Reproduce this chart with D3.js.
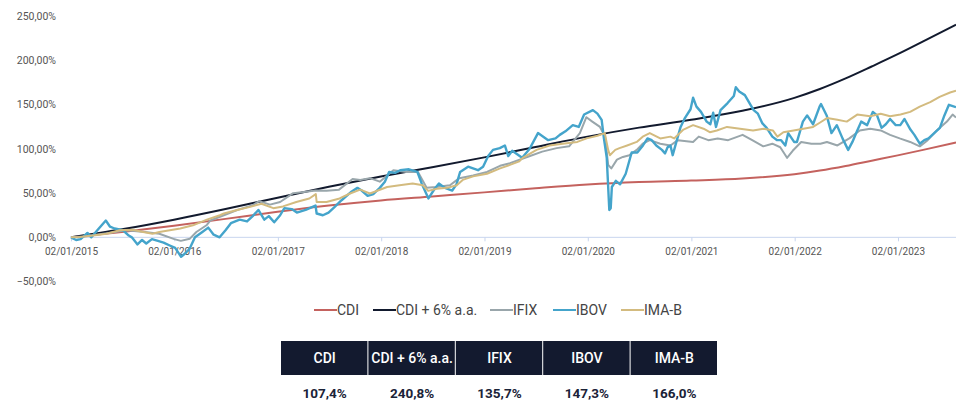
<!DOCTYPE html>
<html>
<head>
<meta charset="utf-8">
<script src="https://cdn.jsdelivr.net/npm/d3@7"></script>
<style>
  html, body { margin: 0; padding: 0; background: #fff; }
  svg { display: block; font-family: Roboto, "Open Sans", sans-serif; }
</style>
</head>
<body>
<svg id="chart" width="956" height="402"></svg>
<script>
// series names + colours (legend order)
const seriesNames = ['CDI', 'CDI + 6% a.a.', 'IFIX', 'IBOV', 'IMA-B']
const seriesColors = ['#c4625e', '#121a2e', '#99a6ab', '#44a4cb', '#d3bb7f']
const finalValues = ['107,4%', '240,8%', '135,7%', '147,3%', '166,0%']

const yTicks = [-50, 0, 50, 100, 150, 200, 250]
const xTicks = ['2015-01-02', '2016-01-02', '2017-01-02', '2018-01-02', '2019-01-02',
  '2020-01-02', '2021-01-02', '2022-01-02', '2023-01-02']

// cumulative return in %
const cdi = [["2015-01-02",0],["2015-07-01",6.0],["2016-01-01",13.2],["2016-07-01",20.9],
  ["2017-01-01",29.0],["2017-07-01",36.0],["2018-01-01",41.8],["2018-07-01",46.3],
  ["2019-01-01",50.9],["2019-07-01",55.6],["2020-01-01",59.9],["2020-07-01",62.7],
  ["2021-01-01",64.3],["2021-07-01",66.5],["2022-01-01",71.5],["2022-04-01",75.6],
  ["2022-07-01",80.8],["2022-10-01",86.8],["2023-01-01",92.8],["2023-04-01",99.0],
  ["2023-07-26",107.4]]

const cdi6 = [["2015-01-02",0],["2015-07-01",9.1],["2016-01-01",20.0],["2016-07-01",32.0],
  ["2017-01-01",44.9],["2017-07-01",57.3],["2018-01-01",68.9],["2018-07-01",79.4],
  ["2019-01-01",90.5],["2019-07-01",102.2],["2020-01-01",114.0],["2020-07-01",124.2],
  ["2021-01-01",133.1],["2021-07-01",143.2],["2022-01-01",157.9],["2022-04-01",167.9],
  ["2022-07-01",179.9],["2022-10-01",193.4],["2023-01-01",207.3],["2023-04-01",221.8],
  ["2023-07-26",240.8]]

const ifix = [["2015-01-02",0],["2015-02-15",1],["2015-04-01",3],["2015-05-15",5],["2015-07-15",8],
  ["2015-09-20",6],["2015-11-10",4],["2016-01-02",-2],["2016-01-25",-4],["2016-02-26",-1.5],
  ["2016-03-20",6],["2016-04-26",14],["2016-05-08",19],["2016-06-25",25],["2016-08-11",31],
  ["2016-10-03",36],["2016-10-28",41],["2016-12-05",37],["2017-01-10",40],["2017-02-25",50],
  ["2017-03-28",51],["2017-05-15",53],["2017-06-23",52.6],["2017-08-06",54],["2017-09-23",66],
  ["2017-10-20",65],["2017-11-23",67],["2017-12-28",63],["2018-02-14",76],["2018-04-02",74],
  ["2018-05-12",74],["2018-06-12",56],["2018-07-15",57],["2018-09-02",59],["2018-10-05",67],
  ["2018-11-23",70],["2019-01-11",74],["2019-02-26",81],["2019-04-02",84],["2019-06-02",91],
  ["2019-07-25",97],["2019-09-14",101],["2019-10-28",103],["2019-12-05",118],["2019-12-28",136],
  ["2020-01-18",131],["2020-02-14",125],["2020-03-03",114],["2020-03-14",82],["2020-03-25",78],
  ["2020-04-14",88],["2020-05-05",91],["2020-05-28",93],["2020-06-23",99],["2020-07-14",106],
  ["2020-08-08",110],["2020-09-14",106],["2020-10-20",104],["2020-11-15",110],["2021-01-08",108],
  ["2021-01-28",114],["2021-03-03",110],["2021-04-05",112],["2021-05-12",110],["2021-07-02",116],
  ["2021-08-05",110],["2021-09-13",103],["2021-10-15",106],["2021-11-12",102],["2021-12-06",90],
  ["2021-12-26",98],["2022-01-25",108],["2022-03-02",106],["2022-04-03",106],["2022-04-26",108],
  ["2022-06-02",104],["2022-07-14",112],["2022-08-20",121],["2022-09-26",123],["2022-11-02",121],
  ["2022-12-05",116],["2023-01-08",112],["2023-02-14",108],["2023-03-20",103],["2023-04-17",110],
  ["2023-05-16",120],["2023-06-24",131],["2023-07-14",139],["2023-07-26",135.7]]

const ibov = [["2015-01-02",0],["2015-01-20",-3],["2015-02-05",-2],["2015-03-01",5],["2015-03-15",0],
  ["2015-04-05",8],["2015-05-05",19],["2015-05-20",12],["2015-06-05",10],["2015-07-05",8],
  ["2015-07-25",2],["2015-08-05",0],["2015-08-25",-8],["2015-09-10",-3],["2015-09-25",-7],
  ["2015-10-15",-2],["2015-11-05",-4],["2015-11-25",-6],["2015-12-15",-9],["2016-01-05",-12],
  ["2016-01-26",-22],["2016-02-10",-18],["2016-02-25",-13],["2016-03-15",0],["2016-04-10",6],
  ["2016-05-01",11],["2016-05-20",3],["2016-06-10",0],["2016-07-01",8],["2016-07-20",16],
  ["2016-08-20",20],["2016-09-15",18],["2016-10-05",24],["2016-10-25",31],["2016-11-15",20],
  ["2016-12-01",24],["2016-12-20",17],["2017-01-10",25],["2017-01-25",33],["2017-02-20",32],
  ["2017-03-10",28],["2017-04-10",31],["2017-05-15",36],["2017-05-19",27],["2017-06-10",25],
  ["2017-06-30",28],["2017-07-20",34],["2017-08-15",42],["2017-09-20",52],["2017-10-10",56],
  ["2017-10-25",53],["2017-11-15",47],["2017-12-05",49],["2017-12-28",56],["2018-01-15",63],
  ["2018-01-30",74],["2018-02-20",73],["2018-03-10",76],["2018-04-10",77],["2018-05-10",74],
  ["2018-05-25",61],["2018-06-18",44],["2018-07-10",55],["2018-07-25",61],["2018-08-15",56],
  ["2018-09-10",53],["2018-09-25",60],["2018-10-08",74],["2018-11-05",80],["2018-12-10",76],
  ["2018-12-28",80],["2019-01-15",92],["2019-02-01",99],["2019-02-25",101],["2019-03-15",104],
  ["2019-03-27",92],["2019-04-10",98],["2019-05-15",90],["2019-06-10",100],["2019-07-10",118],
  ["2019-08-15",110],["2019-09-10",112],["2019-09-25",116],["2019-10-15",120],["2019-11-10",127],
  ["2019-12-01",125],["2019-12-20",139],["2020-01-20",144],["2020-02-05",140],["2020-02-20",133],
  ["2020-02-28",112],["2020-03-09",90],["2020-03-18",31],["2020-03-23",33],["2020-03-27",57],
  ["2020-04-10",64],["2020-04-25",60],["2020-05-15",72],["2020-06-05",96],["2020-06-25",96],
  ["2020-07-15",104],["2020-07-31",112],["2020-08-15",110],["2020-08-31",104],["2020-09-20",99],
  ["2020-10-01",95],["2020-10-10",102],["2020-10-20",104],["2020-10-28",93],["2020-11-10",108],
  ["2020-11-25",125],["2020-12-10",135],["2020-12-30",145],["2021-01-08",158],["2021-01-20",148],
  ["2021-02-05",142],["2021-02-25",131],["2021-03-10",128],["2021-03-20",141],["2021-03-30",125],
  ["2021-04-15",144],["2021-05-10",152],["2021-06-01",160],["2021-06-08",170],["2021-06-20",165],
  ["2021-07-10",161],["2021-07-30",150],["2021-08-10",144],["2021-08-25",140],["2021-09-10",129],
  ["2021-09-25",124],["2021-10-15",114],["2021-11-01",110],["2021-11-15",110],["2021-11-30",104],
  ["2021-12-10",118],["2021-12-31",108],["2022-01-10",108],["2022-01-31",131],["2022-02-15",138],
  ["2022-03-08",128],["2022-03-31",148],["2022-04-05",151],["2022-04-25",138],["2022-05-12",118],
  ["2022-05-31",127],["2022-06-20",112],["2022-07-10",99],["2022-07-25",108],["2022-08-10",120],
  ["2022-08-25",131],["2022-09-15",127],["2022-10-05",142],["2022-10-20",138],["2022-11-05",124],
  ["2022-11-20",128],["2022-12-05",134],["2022-12-25",127],["2023-01-10",127],["2023-01-25",134],
  ["2023-02-15",122],["2023-03-01",116],["2023-03-20",106],["2023-04-05",110],["2023-04-20",112],
  ["2023-05-10",118],["2023-05-30",124],["2023-06-15",138],["2023-07-01",150],["2023-07-26",147.3]]

const imab = [["2015-01-02",0],["2015-02-02",0.3],["2015-03-20",2],["2015-05-08",4],["2015-06-23",8],
  ["2015-08-08",8.6],["2015-09-14",6],["2015-10-17",4],["2015-11-10",6],["2015-12-17",8],
  ["2016-01-23",10],["2016-03-08",13.6],["2016-04-26",20],["2016-06-11",25],["2016-06-25",27],
  ["2016-08-11",31],["2016-09-26",34.5],["2016-11-05",38],["2016-12-17",33],["2017-01-20",35],
  ["2017-03-08",40],["2017-04-23",44],["2017-05-16",49],["2017-05-19",40],["2017-06-23",40],
  ["2017-08-08",44],["2017-09-14",49.6],["2017-10-20",54],["2017-11-23",49.6],["2017-12-05",51],
  ["2018-01-23",57],["2018-03-08",59],["2018-04-23",61],["2018-05-29",59],["2018-06-17",52.6],
  ["2018-07-17",55],["2018-08-23",56],["2018-09-26",59],["2018-10-17",65],["2018-11-23",69],
  ["2019-01-11",72],["2019-02-26",78],["2019-04-02",82],["2019-05-05",86],["2019-05-17",90],
  ["2019-07-05",99],["2019-08-20",104],["2019-10-05",106],["2019-11-26",108],["2019-12-29",112],
  ["2020-02-05",115],["2020-03-02",118],["2020-03-14",99],["2020-03-20",93],["2020-04-08",99],
  ["2020-04-23",101],["2020-05-20",104],["2020-06-23",108],["2020-07-14",114],["2020-08-08",118],
  ["2020-09-14",112],["2020-10-20",114],["2020-11-02",112],["2020-12-05",122],["2021-01-08",127],
  ["2021-02-14",123],["2021-03-08",119],["2021-04-02",121],["2021-05-08",125],["2021-06-23",123],
  ["2021-08-08",121],["2021-09-14",123],["2021-10-17",121],["2021-11-02",114],["2021-11-23",119],
  ["2021-12-29",121],["2022-02-02",123],["2022-03-08",125],["2022-04-02",130],["2022-04-26",135],
  ["2022-06-02",133],["2022-07-05",131],["2022-08-11",139],["2022-09-26",137],["2022-11-02",140],
  ["2022-12-05",137],["2023-01-11",139],["2023-02-14",142],["2023-03-20",148],["2023-04-26",153],
  ["2023-05-29",159],["2023-07-05",164],["2023-07-26",166]]

const parse = d3.timeParse('%Y-%m-%d')
const allSeries = [cdi, cdi6, ifix, ibov, imab].map(s => s.map(([d, v]) => ({ date: parse(d), value: v })))
const smooth = [true, true, false, false, false]

const svg = d3.select('#chart')

const x = d3.scaleTime()
  .domain([parse('2015-01-02'), parse('2023-07-26')])
  .range([71, 956])
const y = d3.scaleLinear().domain([-50, 250]).range([281.5, 16.5])

const fmtY = v => d3.format('.2f')(v).replace('.', ',') + '%'
const fmtX = d3.timeFormat('%d/%m/%Y')

// y labels (no grid lines in the original)
svg.append('g')
  .selectAll('text')
  .data(yTicks)
  .join('text')
  .attr('x', 56)
  .attr('y', d => y(d))
  .attr('text-anchor', 'end')
  .attr('dominant-baseline', 'central')
  .attr('font-size', 10.5)
  .attr('fill', '#555')
  .text(fmtY)

// x axis sits on the 0% line
const xAxis = svg.append('g')
  .attr('transform', `translate(0,${y(0)})`)
  .call(d3.axisBottom(x)
    .tickValues(xTicks.map(parse))
    .tickFormat(fmtX)
    .tickSize(4)
    .tickPadding(7))
xAxis.select('.domain').attr('stroke', '#c8d5ee').attr('d', `M70,0H956`)
xAxis.selectAll('.tick line').attr('stroke', '#c8d5ee')
xAxis.selectAll('.tick text')
  .attr('font-size', 10)
  .attr('fill', '#555')
  .attr('font-family', 'Roboto, sans-serif')

const lines = svg.append('g')
allSeries.forEach((s, i) => {
  const line = d3.line()
    .x(d => x(d.date))
    .y(d => y(d.value))
    .curve(smooth[i] ? d3.curveMonotoneX : d3.curveLinear)
  lines.append('path')
    .datum(s)
    .attr('fill', 'none')
    .attr('stroke', seriesColors[i])
    .attr('stroke-width', i === 3 ? 2.4 : 2)
    .attr('stroke-linejoin', 'round')
    .attr('d', line)
})

// legend
const legendX = [314, 373, 490, 553, 621]
const legend = svg.append('g')
  .selectAll('g')
  .data(seriesNames)
  .join('g')
  .attr('transform', (d, i) => `translate(${legendX[i]},310)`)
legend.append('line')
  .attr('x1', 0).attr('x2', 23)
  .attr('stroke', (d, i) => seriesColors[i])
  .attr('stroke-width', 2)
legend.append('text')
  .attr('x', 23)
  .attr('dominant-baseline', 'central')
  .attr('font-size', 14)
  .attr('fill', '#444')
  .text(d => d)

// summary table
const cellW = 87.4
const table = svg.append('g')
  .selectAll('g')
  .data(seriesNames)
  .join('g')
  .attr('transform', (d, i) => `translate(${281 + i * cellW},0)`)
table.append('rect')
  .attr('y', 341)
  .attr('width', cellW - 1)
  .attr('height', 34)
  .attr('fill', '#131a2f')
table.append('text')
  .attr('x', cellW / 2)
  .attr('y', 358)
  .attr('text-anchor', 'middle')
  .attr('dominant-baseline', 'central')
  .attr('font-size', 14)
  .attr('font-weight', 500)
  .attr('fill', '#fff')
  .text(d => d)
table.append('text')
  .attr('x', cellW / 2)
  .attr('y', 393)
  .attr('text-anchor', 'middle')
  .attr('dominant-baseline', 'central')
  .attr('font-size', 13.5)
  .attr('font-weight', 700)
  .attr('fill', '#1b2338')
  .text((d, i) => finalValues[i])
</script>
</body>
</html>
